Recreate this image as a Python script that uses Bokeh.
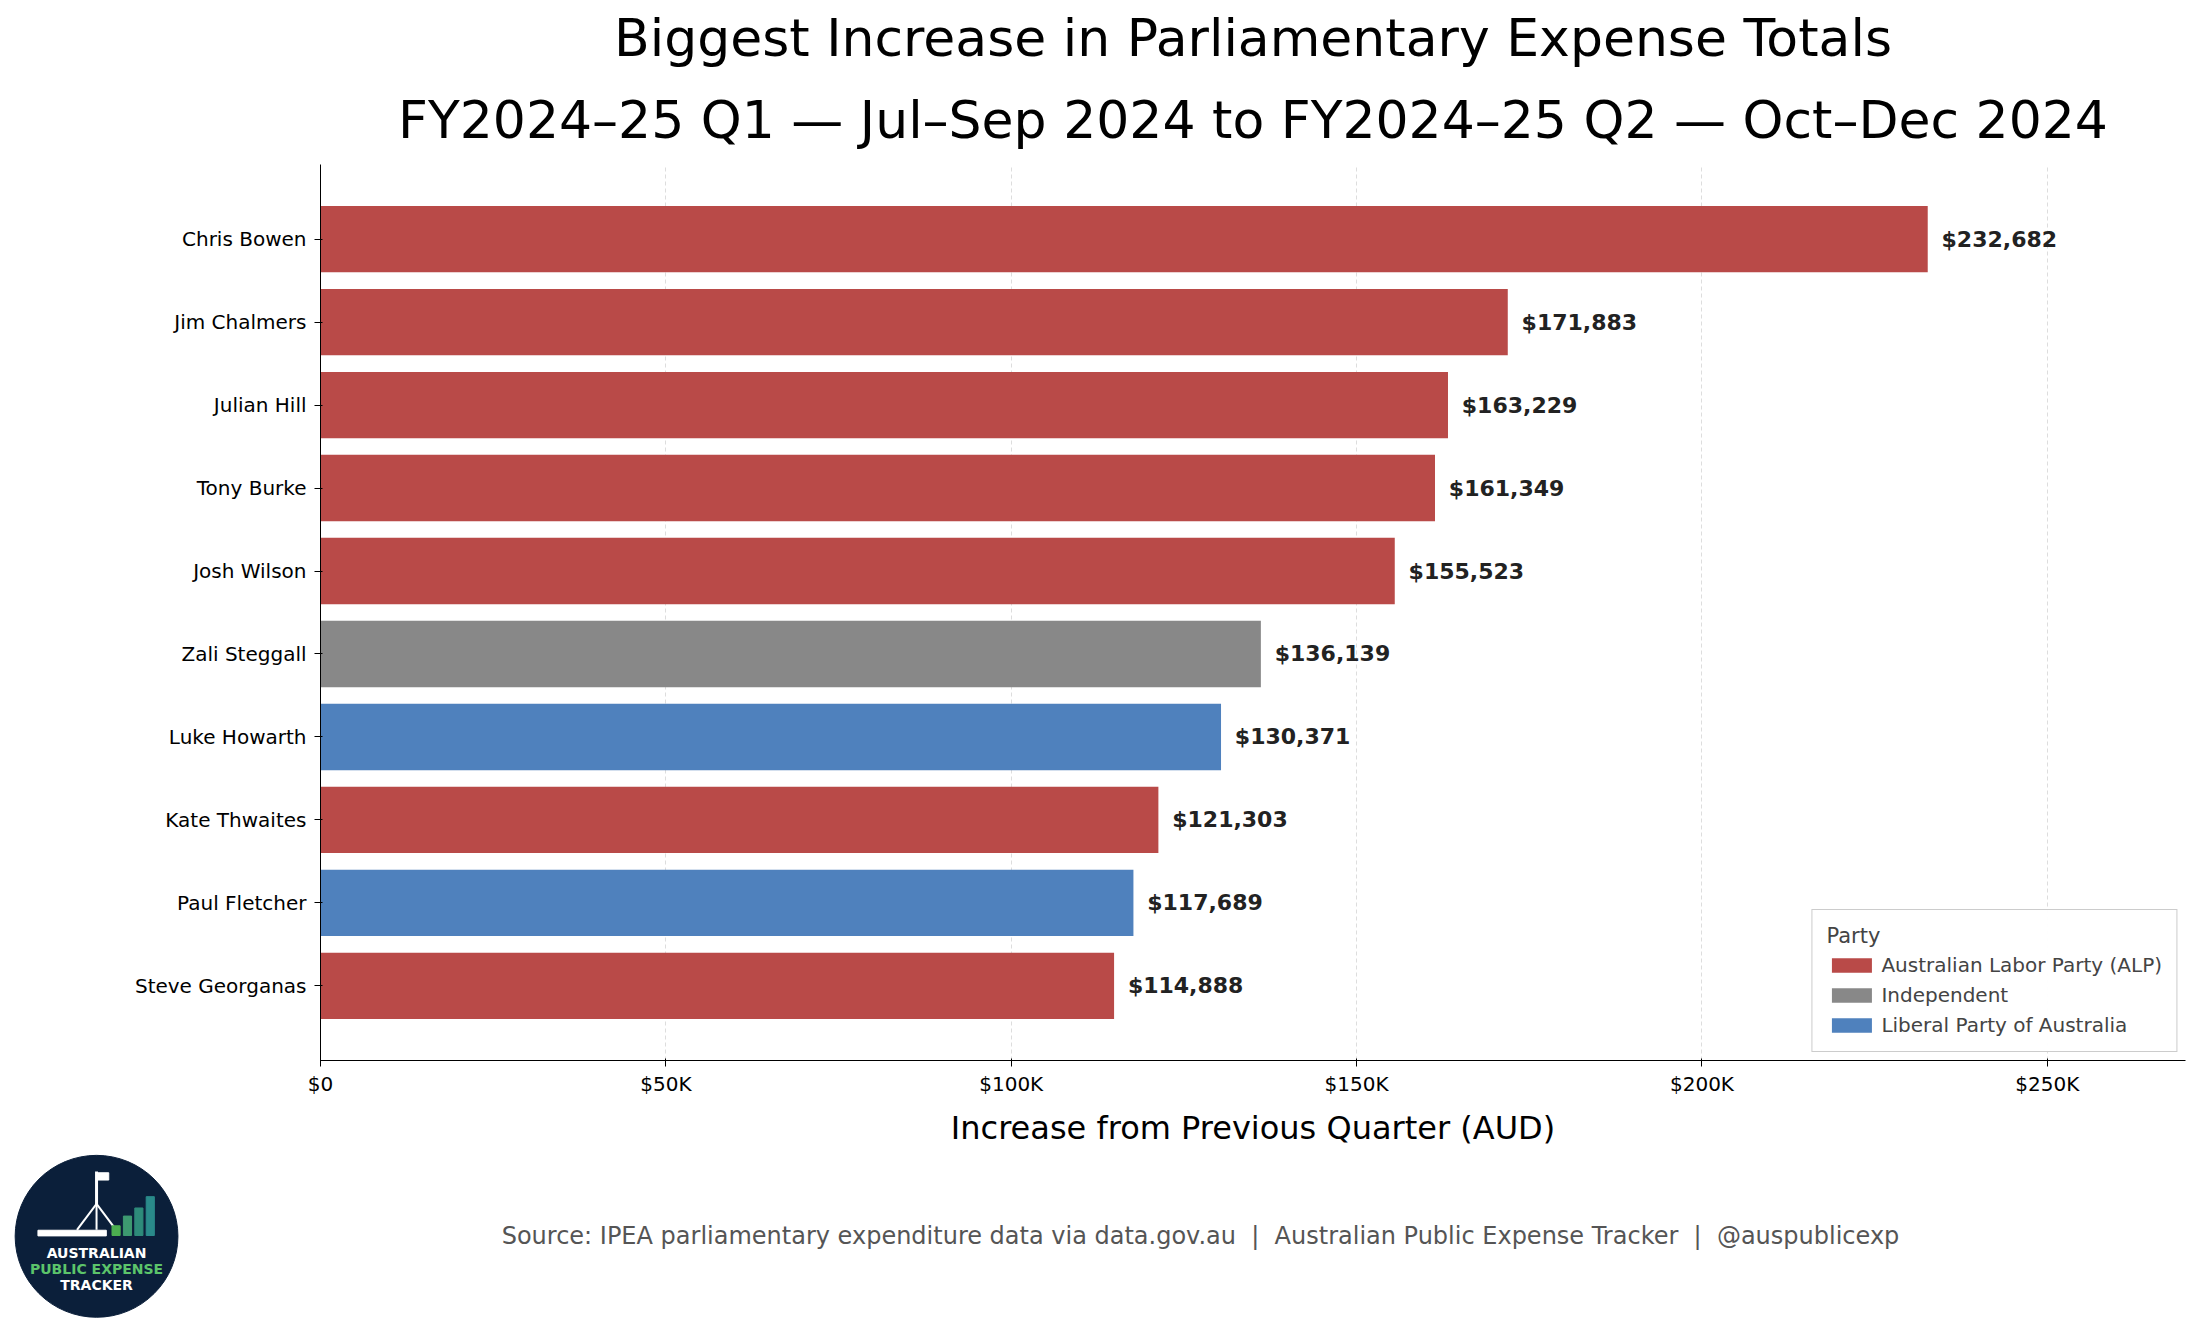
from bokeh.plotting import figure
from bokeh.models import (ColumnDataSource, Title, FixedTicker, CustomJSTickFormatter,
                          Range1d, Legend, LegendItem)
from bokeh.layouts import column, row
from bokeh.core.properties import value
from bokeh.embed import file_html
from bokeh.resources import INLINE

names = ["Chris Bowen", "Jim Chalmers", "Julian Hill", "Tony Burke", "Josh Wilson",
         "Zali Steggall", "Luke Howarth", "Kate Thwaites", "Paul Fletcher", "Steve Georganas"]
increase = [232682, 171883, 163229, 161349, 155523, 136139, 130371, 121303, 117689, 114888]
party = ["ALP", "ALP", "ALP", "ALP", "ALP", "IND", "LIB", "ALP", "LIB", "ALP"]
party_names = {"ALP": "Australian Labor Party (ALP)", "IND": "Independent",
               "LIB": "Liberal Party of Australia"}
party_colors = {"ALP": "#b94a48", "IND": "#888888", "LIB": "#4f81bd"}

FONT = "DejaVu Sans"
cats = names[::-1]

p = figure(width=2190, height=1150, y_range=cats, x_range=Range1d(0, 270000),
           output_backend="svg", toolbar_location=None,
           min_border_left=320, min_border_right=5, min_border_top=10, min_border_bottom=90)
p.outline_line_color = None

p.add_layout(Title(text="FY2024\u201325 Q1 \u2014 Jul\u2013Sep 2024 to FY2024\u201325 Q2 \u2014 Oct\u2013Dec 2024",
                   text_font_size="52px", text_font=FONT, text_font_style="normal",
                   align="center", text_color="black", standoff=30), "above")
p.add_layout(Title(text="Biggest Increase in Parliamentary Expense Totals",
                   text_font_size="52px", text_font=FONT, text_font_style="normal",
                   align="center", text_color="black"), "above")

items = []
for code in ["ALP", "IND", "LIB"]:
    idx = [i for i, pa in enumerate(party) if pa == code]
    src = ColumnDataSource(dict(name=[names[i] for i in idx], val=[increase[i] for i in idx]))
    r = p.hbar(y="name", right="val", left=0, height=0.8, source=src,
               color=party_colors[code], line_color=None)
    items.append(LegendItem(label=party_names[code], renderers=[r]))

lab = ColumnDataSource(dict(name=names, x=[v + 2000 for v in increase],
                            t=["${:,}".format(v) for v in increase]))
p.text(x="x", y="name", text="t", source=lab, text_font=value(FONT),
       text_font_style="bold", text_font_size="22px", text_baseline="middle",
       text_color="#222222")

legend = Legend(items=items, location="bottom_right", title="Party",
                title_text_font_size="21px", title_text_font=FONT, title_text_font_style="normal",
                label_text_font_size="20px", label_text_font=FONT,
                glyph_width=50, glyph_height=18, label_height=22, spacing=6,
                border_line_color="#cccccc", border_line_alpha=1, margin=8, padding=14)
p.add_layout(legend)

p.xaxis.ticker = FixedTicker(ticks=[0, 50000, 100000, 150000, 200000, 250000])
p.xaxis.formatter = CustomJSTickFormatter(code="return tick == 0 ? '$0' : '$' + (tick/1000) + 'K';")
p.xaxis.axis_label = "Increase from Previous Quarter (AUD)"
p.xaxis.axis_label_text_font_size = "32px"
p.xaxis.axis_label_text_font_style = "normal"
p.xaxis.axis_label_text_font = FONT
p.xaxis.axis_label_text_color = "black"
p.xaxis.axis_label_standoff = 10
for ax in (p.xaxis, p.yaxis):
    ax.major_label_text_font_size = "20px"
    ax.major_label_text_font = FONT
    ax.major_label_text_color = "black"
    ax.axis_line_color = "black"
    ax.major_tick_line_color = "black"
    ax.minor_tick_line_color = None
p.yaxis.major_label_standoff = 8
p.ygrid.grid_line_color = None
p.xgrid.grid_line_color = "#dddddd"
p.xgrid.grid_line_dash = "4 3"
p.y_range.range_padding = 0.08

# logo
logo = figure(width=210, height=170, x_range=Range1d(-0.09, 1.2), y_range=Range1d(-0.02, 1.03),
              output_backend="svg", toolbar_location=None, min_border=0)
logo.axis.visible = False
logo.grid.grid_line_color = None
logo.outline_line_color = None
logo.ellipse(x=[0.5], y=[0.5], width=[1.0], height=[1.0], color="#0b1f3a")
logo.rect(x=[0.35], y=[0.52], width=[0.42], height=[0.035], color="white")
logo.segment(x0=[0.5, 0.5, 0.5], y0=[0.7, 0.7, 0.7], x1=[0.38, 0.5, 0.62],
             y1=[0.54, 0.54, 0.54], color="white", line_width=2)
logo.segment(x0=[0.5], y0=[0.7], x1=[0.5], y1=[0.9], color="white", line_width=3)
logo.rect(x=[0.54], y=[0.87], width=[0.07], height=[0.045], color="white")
bx = [0.62, 0.69, 0.76, 0.83]
bh = [0.06, 0.12, 0.17, 0.24]
logo.vbar(x=bx, bottom=0.505, top=[0.505 + h for h in bh], width=0.05,
          color=["#4caf50", "#3d9970", "#2e8b7a", "#2a8a8a"])
logo.text(x=[0.5, 0.5, 0.5], y=[0.4, 0.3, 0.2],
          text=["AUSTRALIAN", "PUBLIC EXPENSE", "TRACKER"],
          text_color=["white", "#5cc46a", "white"], text_font=value(FONT),
          text_font_style="bold", text_font_size="14px", text_align="center",
          text_baseline="middle")

foot = figure(width=1980, height=170, x_range=Range1d(0, 1), y_range=Range1d(0, 1),
              output_backend="svg", toolbar_location=None, min_border=0)
foot.axis.visible = False
foot.grid.grid_line_color = None
foot.outline_line_color = None
sep = "\u00a0\u00a0|\u00a0\u00a0"
foot.text(x=[0.5], y=[0.5],
          text=["Source: IPEA parliamentary expenditure data via data.gov.au" + sep +
                "Australian Public Expense Tracker" + sep + "@auspublicexp"],
          text_color="#555555", text_font=value(FONT), text_font_size="24px",
          text_align="center", text_baseline="middle")

layout = column(p, row(logo, foot, spacing=0), spacing=0)
open("out.html", "w").write(file_html(layout, INLINE))
